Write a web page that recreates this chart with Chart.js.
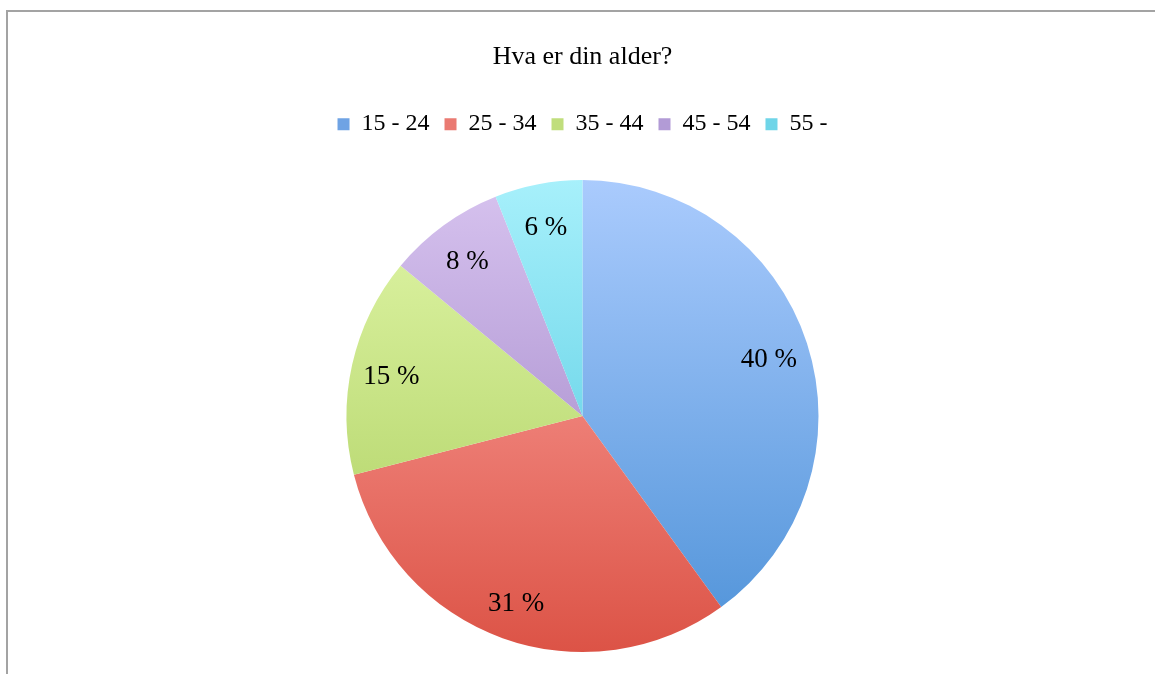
<!DOCTYPE html>
<html>
<head>
<meta charset="utf-8">
<script src="https://cdn.jsdelivr.net/npm/chart.js@4/dist/chart.umd.min.js"></script>
<style>
	html, body { margin: 0; padding: 0; background: #fff; overflow: hidden; }
	#frame {
		position: absolute; left: 6px; top: 10px; width: 1200px; height: 700px;
		border-left: 2px solid #a3a3a3; border-top: 2px solid #a3a3a3;
	}
	#wrap { position: absolute; left: 0; top: 0; width: 1155px; height: 700px; }
</style>
</head>
<body>
<div id="frame"></div>
<div id="wrap"><canvas id="age_chart"></canvas></div>
<script>
var categories = ['15 - 24', '25 - 34', '35 - 44', '45 - 54', '55 -'];
var shares     = [40, 31, 15, 8, 6];

// light (top) / dark (bottom) shades of each slice
var topColors  = ['#aacbfd', '#ffaaa6', '#e2f7aa', '#d7c3ef', '#a7f0fb'];
var botColors  = ['#4e92d8', '#dc5346', '#a8cc5a', '#977ac0', '#44c3dc'];
var midColors  = ['#6fa3e4', '#ea7a72', '#c0de7c', '#b29bd6', '#6fd5e8'];

var PIE_R = 236;
var serif = 'Liberation Serif, Times New Roman, serif';

function sliceFill(ctx) {
	var chart = ctx.chart;
	var area = chart.chartArea;
	var i = ctx.dataIndex;
	if (!area) return topColors[i];
	var cy = (area.top + area.bottom) / 2;
	var g = chart.ctx.createLinearGradient(0, cy - PIE_R, 0, cy + PIE_R);
	g.addColorStop(0, topColors[i]);
	g.addColorStop(1, botColors[i]);
	return g;
}

var sliceLabels = {
	id : 'sliceLabels',
	afterDatasetsDraw : function(chart) {
		var c = chart.ctx;
		var meta = chart.getDatasetMeta(0);
		c.save();
		c.font = '27px ' + serif;
		c.fillStyle = '#000';
		c.textAlign = 'center';
		c.textBaseline = 'middle';
		meta.data.forEach(function(arc, i) {
			var mid = (arc.startAngle + arc.endAngle) / 2;
			var r = arc.outerRadius * 0.83;
			c.fillText(shares[i] + ' %', arc.x + Math.cos(mid) * r, arc.y + Math.sin(mid) * r + 4);
		});
		c.restore();
	}
};

var config = {
	type    : 'pie',
	data    : {
		labels   : categories,
		datasets : [
			{
				data            : shares,
				backgroundColor : sliceFill,
				borderWidth     : 0,
				radius          : PIE_R
			}
		]
	},
	options : {
		responsive          : true,
		maintainAspectRatio : false,
		animation           : false,
		layout              : {
			padding : { left : 10, right : 0, top : 0, bottom : 14 }
		},
		plugins : {
			title   : {
				display : true,
				text    : 'Hva er din alder?',
				color   : '#000',
				font    : { family : serif, size : 26, weight : 'normal' },
				padding : { top : 42, bottom : 24 }
			},
			legend  : {
				display : true,
				position: 'top',
				labels  : {
					color     : '#000',
					font      : { family : serif, size : 24 },
					boxWidth  : 12,
					boxHeight : 12,
					padding   : 15,
					generateLabels : function(chart) {
						return categories.map(function(name, i) {
							return {
								text        : name,
								fillStyle   : midColors[i],
								strokeStyle : midColors[i],
								lineWidth   : 0,
								fontColor   : '#000',
								index       : i
							};
						});
					}
				}
			},
			tooltip : { enabled : false }
		}
	},
	plugins : [sliceLabels]
};

window.onload = function() {
	var ctx = document.getElementById('age_chart').getContext('2d');
	window.agePie = new Chart(ctx, config);
};
</script>
</body>
</html>
